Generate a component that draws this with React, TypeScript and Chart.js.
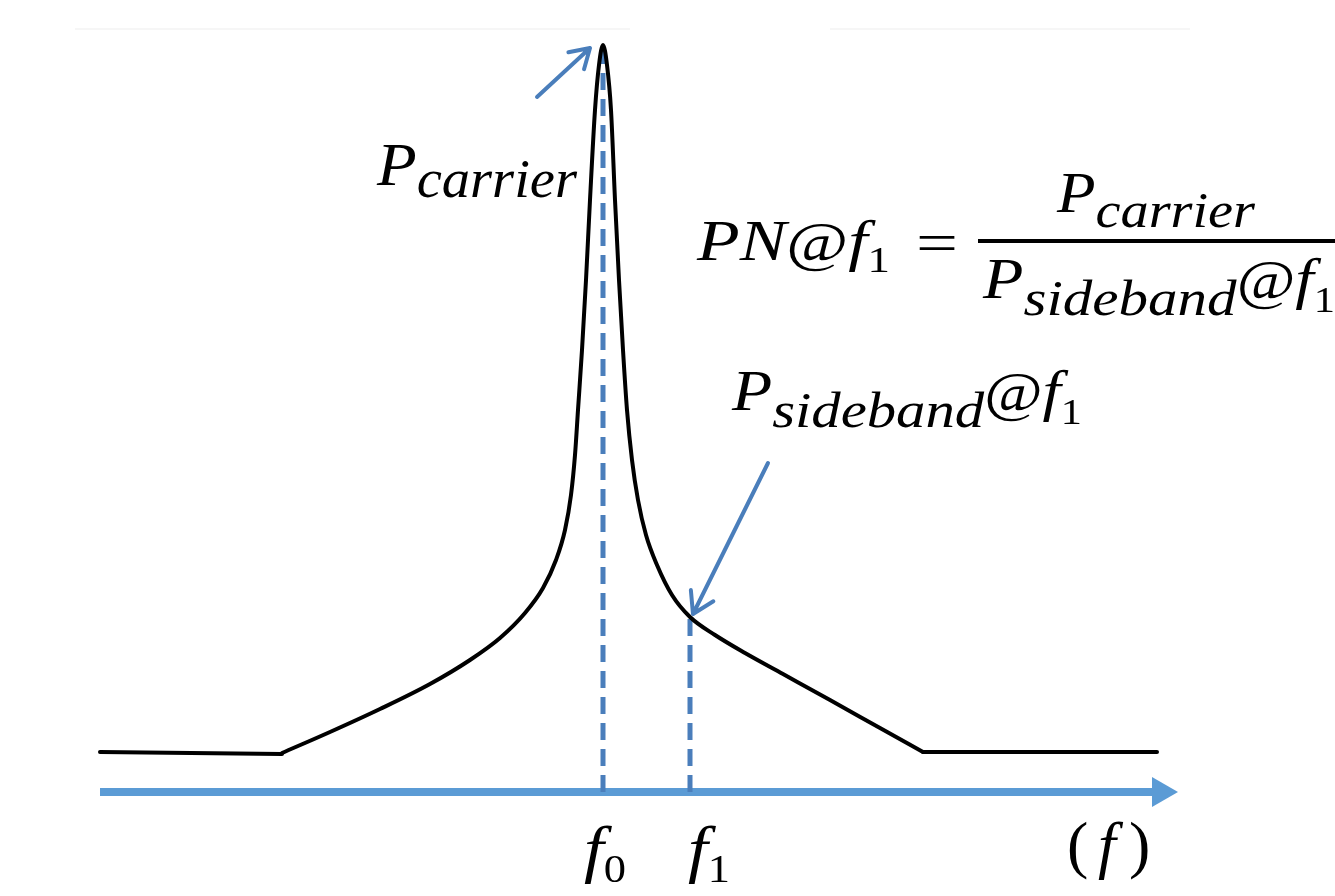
import React, { useEffect, useRef } from "react";
import { Chart, registerables } from "chart.js";

Chart.register(...registerables);

// Offset from the carrier frequency (arbitrary units) and relative power level of the spectrum
const curveOffsets = [-321, -273, -223, -173, -133, -103, -78, -60, -47, -38, -32, -28, -25, -21, -17, -13, -8, -4, 0, 4, 8, 12, 16, 20, 24, 29, 35, 43, 54, 69, 87, 112, 142, 180, 227, 277, 320];
const curveLevels = [39, 60, 83, 108, 132, 154, 179, 204, 232, 262, 297, 337, 382, 442, 512, 592, 682, 727, 747, 727, 682, 592, 512, 442, 382, 332, 292, 257, 227, 197, 175, 157, 139, 118, 92, 64, 40];

// Noise floor either side of the skirt
const floorLeftOffsets = [-503, -321];
const floorLeftLevels = [40, 38];
const floorRightOffsets = [320, 554];
const floorRightLevels = [40, 40];

// Marked frequencies: carrier and the offset where the sideband is measured
const markerNames = ["0", "1"];
const markerOffsets = [0, 87];
const markerLevels = [747, 175];

// Frequency axis extent
const axisStart = -503;
const axisEnd = 575;

const X_MIN = -603;
const X_MAX = 732;
const Y_MIN = -104;
const Y_MAX = 792;

const SERIF = '"Liberation Serif", "DejaVu Serif", serif';
const ARROW_BLUE = "#4A7EBB";
const AXIS_BLUE = "#5B9BD5";

type Run = { t: string; italic?: boolean; size: number; dy?: number };

function drawRuns(ctx: CanvasRenderingContext2D, runs: Run[], x: number, baseline: number, targetWidth?: number) {
  const widths: number[] = [];
  let total = 0;
  for (const r of runs) {
    ctx.font = `${r.italic ? "italic " : ""}${r.size}px ${SERIF}`;
    const w = ctx.measureText(r.t).width;
    widths.push(w);
    total += w;
  }
  const sx = targetWidth ? targetWidth / total : 1;
  ctx.save();
  ctx.translate(x, baseline);
  ctx.scale(sx, 1);
  ctx.fillStyle = "#000";
  ctx.textBaseline = "alphabetic";
  ctx.textAlign = "left";
  let cx = 0;
  runs.forEach((r, i) => {
    ctx.font = `${r.italic ? "italic " : ""}${r.size}px ${SERIF}`;
    ctx.fillText(r.t, cx, r.dy || 0);
    cx += widths[i];
  });
  ctx.restore();
}

function drawArrow(ctx: CanvasRenderingContext2D, x0: number, y0: number, x1: number, y1: number, color: string, width: number, head: number) {
  const ang = Math.atan2(y1 - y0, x1 - x0);
  ctx.save();
  ctx.strokeStyle = color;
  ctx.lineWidth = width;
  ctx.lineCap = "round";
  ctx.lineJoin = "round";
  ctx.beginPath();
  ctx.moveTo(x0, y0);
  ctx.lineTo(x1, y1);
  ctx.moveTo(x1 - head * Math.cos(ang - 0.55), y1 - head * Math.sin(ang - 0.55));
  ctx.lineTo(x1, y1);
  ctx.lineTo(x1 - head * Math.cos(ang + 0.55), y1 - head * Math.sin(ang + 0.55));
  ctx.stroke();
  ctx.restore();
}

const sidebandRuns = (): Run[] => [
  { t: "P", italic: true, size: 56 },
  { t: "sideband", italic: true, size: 50, dy: 17 },
  { t: "@", size: 54 },
  { t: "f", italic: true, size: 56 },
  { t: "1", size: 36, dy: 14 },
];

const decorations = {
  id: "phaseNoiseDecorations",
  beforeDatasetsDraw(chart: any) {
    const ctx: CanvasRenderingContext2D = chart.ctx;
    const xs = chart.scales.x;
    const ys = chart.scales.y;
    const y0 = ys.getPixelForValue(0);

    // faint frame remnants along the top
    ctx.save();
    ctx.strokeStyle = "#f6f6f6";
    ctx.lineWidth = 2;
    ctx.beginPath();
    ctx.moveTo(75, 29);
    ctx.lineTo(630, 29);
    ctx.moveTo(830, 29);
    ctx.lineTo(1190, 29);
    ctx.stroke();
    ctx.restore();

    // frequency axis with arrow head
    const xa = xs.getPixelForValue(axisStart);
    const xb = xs.getPixelForValue(axisEnd);
    ctx.save();
    ctx.strokeStyle = AXIS_BLUE;
    ctx.fillStyle = AXIS_BLUE;
    ctx.lineWidth = 8;
    ctx.beginPath();
    ctx.moveTo(xa, y0);
    ctx.lineTo(xb - 24, y0);
    ctx.stroke();
    ctx.beginPath();
    ctx.moveTo(xb - 26, y0 - 15);
    ctx.lineTo(xb, y0);
    ctx.lineTo(xb - 26, y0 + 15);
    ctx.closePath();
    ctx.fill();
    ctx.restore();

    // dashed drop lines at f0 and f1
    ctx.save();
    ctx.strokeStyle = ARROW_BLUE;
    ctx.lineWidth = 5;
    ctx.setLineDash([17, 9]);
    markerOffsets.forEach((off, i) => {
      const px = xs.getPixelForValue(off);
      ctx.beginPath();
      ctx.moveTo(px, y0);
      ctx.lineTo(px, ys.getPixelForValue(markerLevels[i]) + (i === 0 ? 6 : 0));
      ctx.stroke();
    });
    ctx.restore();
  },
  afterDatasetsDraw(chart: any) {
    const ctx: CanvasRenderingContext2D = chart.ctx;
    const xs = chart.scales.x;
    const ys = chart.scales.y;

    // pointer to the carrier peak
    const pkx = xs.getPixelForValue(markerOffsets[0]);
    const pky = ys.getPixelForValue(markerLevels[0]);
    drawArrow(ctx, pkx - 66, pky + 52, pkx - 13, pky + 3, ARROW_BLUE, 4, 22);

    // pointer to the sideband at f1
    const sbx = xs.getPixelForValue(markerOffsets[1]);
    const sby = ys.getPixelForValue(markerLevels[1]);
    drawArrow(ctx, sbx + 78, sby - 154, sbx + 3, sby - 3, ARROW_BLUE, 4, 24);

    // P_carrier next to the peak
    drawRuns(ctx, [
      { t: "P", italic: true, size: 62 },
      { t: "carrier", italic: true, size: 54, dy: 12 },
    ], 377, 185, 200);

    // PN@f1 = P_carrier / P_sideband@f1
    drawRuns(ctx, [
      { t: "PN", italic: true, size: 56 },
      { t: "@", size: 54 },
      { t: "f", italic: true, size: 56 },
      { t: "1", size: 36, dy: 12 },
    ], 697, 260, 193);
    drawRuns(ctx, [{ t: "=", size: 58 }], 916, 262, 42);
    drawRuns(ctx, [
      { t: "P", italic: true, size: 56 },
      { t: "carrier", italic: true, size: 50, dy: 15 },
    ], 1057, 212, 198);
    ctx.save();
    ctx.fillStyle = "#000";
    ctx.fillRect(978, 239, 357, 4);
    ctx.restore();
    drawRuns(ctx, sidebandRuns(), 983, 298, 352);

    // P_sideband@f1 above the pointer
    drawRuns(ctx, sidebandRuns(), 732, 410, 350);

    // axis labels
    markerOffsets.forEach((off, i) => {
      const px = xs.getPixelForValue(off);
      drawRuns(ctx, [
        { t: "f", italic: true, size: 64 },
        { t: markerNames[i], size: 40, dy: 12 },
      ], px - (i === 0 ? 19 : 2), 870, 42);
    });
    drawRuns(ctx, [{ t: "(", size: 64 }], 1067, 866);
    drawRuns(ctx, [{ t: "f", italic: true, size: 64 }], 1098, 866);
    drawRuns(ctx, [{ t: ")", size: 64 }], 1129, 866);
  },
};

export default function App() {
  const canvasRef = useRef<HTMLCanvasElement | null>(null);

  useEffect(() => {
    document.body.style.margin = "0";
    const canvas = canvasRef.current;
    if (!canvas) return;
    const toPoints = (xs: number[], ys: number[]) => xs.map((x, i) => ({ x, y: ys[i] }));
    const lineStyle = {
      borderColor: "#000",
      borderWidth: 4,
      pointRadius: 0,
      fill: false,
      borderCapStyle: "round" as const,
      borderJoinStyle: "round" as const,
    };
    const chart = new Chart(canvas, {
      type: "line",
      data: {
        datasets: [
          { ...lineStyle, label: "floor-left", data: toPoints(floorLeftOffsets, floorLeftLevels), tension: 0 },
          { ...lineStyle, label: "spectrum", data: toPoints(curveOffsets, curveLevels), cubicInterpolationMode: "monotone" },
          { ...lineStyle, label: "floor-right", data: toPoints(floorRightOffsets, floorRightLevels), tension: 0 },
        ],
      },
      options: {
        animation: false,
        responsive: false,
        maintainAspectRatio: false,
        devicePixelRatio: 1,
        layout: { padding: 0 },
        plugins: { legend: { display: false }, tooltip: { enabled: false } },
        events: [],
        scales: {
          x: { type: "linear", min: X_MIN, max: X_MAX, display: false },
          y: { type: "linear", min: Y_MIN, max: Y_MAX, display: false },
        },
      },
      plugins: [decorations],
    });
    return () => chart.destroy();
  }, []);

  return (
    <div style={{ position: "absolute", left: 0, top: 0, width: 1335, height: 896, background: "#fff" }}>
      <canvas ref={canvasRef} width={1335} height={896} />
    </div>
  );
}
